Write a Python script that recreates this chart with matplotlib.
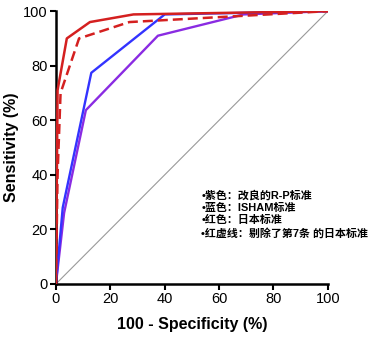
import matplotlib
matplotlib.use("Agg")
import matplotlib.pyplot as plt

plt.rcParams['font.family'] = ['Liberation Sans', 'DejaVu Sans']

# ROC points: 100 - specificity (x) vs sensitivity (y), in %
purple_x = [0, 3, 11, 37.5, 69, 100]
purple_y = [0, 26, 63.7, 91, 98.8, 100]

blue_x = [0, 2.5, 13, 40, 100]
blue_y = [0, 28, 77.4, 98.8, 100]

red_x = [0, 0.6, 4, 12.5, 28.5, 100]
red_y = [0, 71, 90, 96, 98.8, 100]

red_dash_x = [0, 0.6, 1.7, 8.5, 27, 69, 100]
red_dash_y = [0, 40, 70, 90, 96, 98.3, 100]

ref_x = [0, 100]
ref_y = [0, 100]

legend_lines = [
    "•紫色：改良的R-P标准",
    "•蓝色：ISHAM标准",
    "•红色：日本标准",
    "•红虚线：剔除了第7条 的日本标准",
]

fig = plt.figure(figsize=(3.68, 3.38), dpi=100)
ax = fig.add_axes([0.152, 0.160, 0.739, 0.807])

ax.plot(ref_x, ref_y, color='#999999', lw=0.8, zorder=1)
ax.plot(purple_x, purple_y, color='#8a2be2', lw=1.7, zorder=2)
ax.plot(blue_x, blue_y, color='#3333ff', lw=1.7, zorder=3)
ax.plot(red_dash_x, red_dash_y, color='#d42020', lw=1.8, ls=(0, (4, 2)), zorder=4)
ax.plot(red_x, red_y, color='#d42020', lw=1.8, zorder=5)

ax.set_xlim(0, 100)
ax.set_ylim(0, 100)
ax.set_xticks([0, 20, 40, 60, 80, 100])
ax.set_yticks([0, 20, 40, 60, 80, 100])
ax.tick_params(direction='out', width=1.5, length=4, labelsize=10.5, pad=2)
for side in ['top', 'right']:
    ax.spines[side].set_visible(False)
for side in ['left', 'bottom']:
    ax.spines[side].set_linewidth(1.8)
    ax.spines[side].set_clip_on(False)

ax.set_xlabel("100 - Specificity (%)", fontsize=11.5, fontweight='bold', labelpad=8)
ax.set_ylabel("Sensitivity (%)", fontsize=11.5, fontweight='bold', labelpad=3)

for i, line in enumerate(legend_lines):
    ax.text(53.5, 32.6 - i * 4.65, line, fontsize=7.9, fontweight='bold',
            family=['Liberation Sans', 'Noto Sans CJK SC'], va='center', ha='left')

fig.savefig("out.png", dpi=100)
